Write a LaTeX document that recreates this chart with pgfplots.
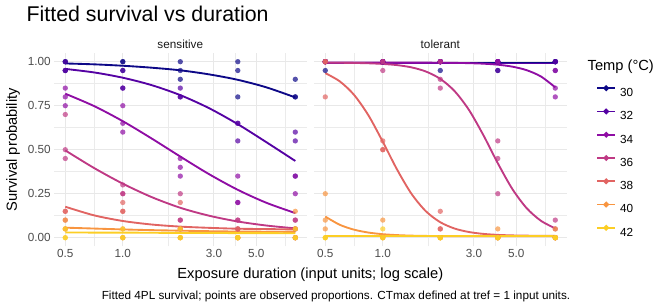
\documentclass[border=0pt]{standalone}
\usepackage{pgfplots}
\pgfplotsset{compat=1.18}
\usepackage{fontspec}
\setmainfont{Liberation Sans}
\definecolor{c30}{HTML}{0D0887}
\definecolor{c32}{HTML}{5502A3}
\definecolor{c34}{HTML}{8F0DA4}
\definecolor{c36}{HTML}{BF3984}
\definecolor{c38}{HTML}{E16462}
\definecolor{c40}{HTML}{F89540}
\definecolor{c42}{HTML}{FCCE25}
\pgfplotsset{
 pts/.style={only marks, mark=*, mark size=2pt, color=#1, mark options={draw opacity=0, fill=#1, fill opacity=0.7}, forget plot},
 crv/.style={color=#1, line width=1.4pt, mark=none, smooth, forget plot},
}
\begin{document}
\begin{tikzpicture}[x=0.75pt,y=0.75pt]
\path[use as bounding box] (0,0) rectangle (672,307);
% ---------------- sensitive ----------------
\begin{axis}[scale only axis, width=189.75pt, height=145.2pt, anchor=south west,
   xmode=log, xmin=0.4353, xmax=9.19, ymin=-0.05, ymax=1.05,
   axis line style={draw=none}, major tick length=0pt, minor tick length=0pt,
   grid=both, major grid style={black!9, line width=0.8pt},
   minor grid style={black!8, line width=0.4pt},
   xtick={0.5,1,3,5}, xticklabels={0.5,1.0,3.0,5.0},
   minor xtick={0.35355,0.70711,1.73205,3.87298,7.07107},
   ytick={0,0.25,0.5,0.75,1}, minor ytick={0.125,0.375,0.625,0.875},
   tick label style={font=\fontsize{8.8}{10}\selectfont, text=black!70},
   /pgf/number format/assume math mode=true,
   xticklabel style={anchor=north, inner sep=0pt, yshift=-2.2pt},
   yticklabel style={anchor=east, inner sep=0pt, xshift=-2.2pt},
   at={(40.35pt,45.375pt)}, yticklabels={0.00,0.25,0.50,0.75,1.00}]
\addplot[pts=c30] coordinates {(0.5,1)(0.5,1)(0.5,0.95)(1,1)(1,1)(1,0.95)(2,1)(2,0.95)(2,0.9)(4,1)(4,0.95)(4,0.8)(8,0.9)(8,0.8)(8,0.8)};
\addplot[pts=c32] coordinates {(0.5,0.95)(0.5,0.95)(0.5,1)(1,0.95)(1,0.85)(1,0.85)(2,0.85)(2,0.8)(2,0.8)(4,0.65)(4,0.65)(4,0.55)(8,0.6)(8,0.55)(8,0.35)};
\addplot[pts=c34] coordinates {(0.5,0.85)(0.5,0.8)(0.5,0.75)(1,0.75)(1,0.65)(1,0.6)(2,0.45)(2,0.4)(2,0.35)(4,0.35)(4,0.2)(4,0.2)(8,0.35)(8,0.25)(8,0.05)};
\addplot[pts=c36] coordinates {(0.5,0.7)(0.5,0.5)(0.5,0.45)(1,0.3)(1,0.25)(1,0.25)(2,0.25)(2,0.1)(2,0.1)(4,0.1)(4,0.1)(4,0.05)(8,0.1)(8,0.1)(8,0)};
\addplot[pts=c38] coordinates {(0.5,0.15)(0.5,0.15)(0.5,0.1)(1,0.2)(1,0.15)(1,0.15)(2,0.2)(2,0.05)(2,0.05)(4,0.05)(4,0.05)(4,0)(8,0.05)(8,0)(8,0)};
\addplot[pts=c40] coordinates {(0.5,0.1)(0.5,0.05)(0.5,0.05)(1,0.05)(1,0)(1,0)(2,0.05)(2,0)(2,0)(4,0)(4,0)(4,0)(8,0.15)(8,0.05)(8,0)};
\addplot[pts=c42] coordinates {(0.5,0)(0.5,0)(0.5,0.05)(1,0.05)(1,0)(1,0)(2,0.05)(2,0)(2,0)(4,0)(4,0)(4,0)(8,0.05)(8,0)(8,0)};
\addplot[crv=c30] coordinates {(0.5,0.990)(0.70711,0.985)(1,0.977)(1.41421,0.966)(2,0.951)(2.82843,0.928)(4,0.897)(5.65685,0.854)(8,0.797)};
\addplot[crv=c32] coordinates {(0.5,0.959)(0.70711,0.939)(1,0.909)(1.41421,0.867)(2,0.810)(2.82843,0.736)(4,0.645)(5.65685,0.542)(8,0.436)};
\addplot[crv=c34] coordinates {(0.5,0.818)(0.70711,0.748)(1,0.662)(1.41421,0.564)(2,0.461)(2.82843,0.361)(4,0.272)(5.65685,0.198)(8,0.140)};
\addplot[crv=c36] coordinates {(0.5,0.496)(0.70711,0.396)(1,0.307)(1.41421,0.231)(2,0.170)(2.82843,0.125)(4,0.092)(5.65685,0.069)(8,0.053)};
\addplot[crv=c38] coordinates {(0.5,0.176)(0.70711,0.127)(1,0.095)(1.41421,0.075)(2,0.063)(2.82843,0.056)(4,0.051)(5.65685,0.049)(8,0.047)};
\addplot[crv=c40] coordinates {(0.5,0.057)(0.70711,0.052)(1,0.047)(1.41421,0.043)(2,0.040)(2.82843,0.037)(4,0.035)(5.65685,0.034)(8,0.033)};
\addplot[crv=c42] coordinates {(0.5,0.030)(0.70711,0.029)(1,0.029)(1.41421,0.028)(2,0.027)(2.82843,0.027)(4,0.026)(5.65685,0.026)(8,0.025)};
\end{axis}
% ---------------- tolerant ----------------
\begin{axis}[scale only axis, width=189.75pt, height=145.2pt, anchor=south west,
   xmode=log, xmin=0.4353, xmax=9.19, ymin=-0.05, ymax=1.05,
   axis line style={draw=none}, major tick length=0pt, minor tick length=0pt,
   grid=both, major grid style={black!9, line width=0.8pt},
   minor grid style={black!8, line width=0.4pt},
   xtick={0.5,1,3,5}, xticklabels={0.5,1.0,3.0,5.0},
   minor xtick={0.35355,0.70711,1.73205,3.87298,7.07107},
   ytick={0,0.25,0.5,0.75,1}, minor ytick={0.125,0.375,0.625,0.875},
   tick label style={font=\fontsize{8.8}{10}\selectfont, text=black!70},
   /pgf/number format/assume math mode=true,
   xticklabel style={anchor=north, inner sep=0pt, yshift=-2.2pt},
   yticklabels={},
   at={(235.35pt,45.375pt)},
  legend style={draw=none, fill=none, at={(1.0996,0.8424)}, anchor=north west,
    legend cell align=left, font=\fontsize{8.8}{10}\selectfont,
    nodes={inner sep=0pt, text height=6.3pt, text depth=0pt}, row sep=9.8pt, column sep=3pt},
  legend image code/.code={\draw[mark repeat=2,mark phase=2,#1] plot coordinates {(0pt,3.1pt) (6.75pt,3.1pt) (13.5pt,3.1pt)};}]
\addplot[pts=c30] coordinates {(0.5,1)(0.5,1)(0.5,0.95)(1,1)(1,1)(1,1)(2,1)(2,1)(2,0.95)(4,1)(4,1)(4,0.95)(8,1)(8,1)(8,1)};
\addplot[pts=c32] coordinates {(0.5,1)(0.5,1)(0.5,1)(1,1)(1,1)(1,1)(2,1)(2,1)(2,1)(4,1)(4,1)(4,0.95)(8,1)(8,1)(8,0.95)};
\addplot[pts=c34] coordinates {(0.5,1)(0.5,1)(0.5,1)(1,1)(1,1)(1,1)(2,1)(2,1)(2,1)(4,1)(4,1)(4,1)(8,0.95)(8,0.85)(8,0.8)};
\addplot[pts=c36] coordinates {(0.5,1)(0.5,1)(0.5,1)(1,1)(1,1)(1,0.95)(2,1)(2,0.9)(2,0.85)(4,0.55)(4,0.45)(4,0.25)(8,0.1)(8,0.05)(8,0)};
\addplot[pts=c38] coordinates {(0.5,1)(0.5,1)(0.5,0.8)(1,0.55)(1,0.5)(1,0.5)(2,0.15)(2,0.05)(2,0.05)(4,0)(4,0)(4,0)(8,0)(8,0)(8,0)};
\addplot[pts=c40] coordinates {(0.5,0.25)(0.5,0.1)(0.5,0.05)(1,0.1)(1,0)(1,0)(2,0)(2,0)(2,0)(4,0.05)(4,0)(4,0)(8,0.05)(8,0)(8,0)};
\addplot[pts=c42] coordinates {(0.5,0)(0.5,0)(0.5,0)(1,0.05)(1,0)(1,0)(2,0)(2,0)(2,0)(4,0)(4,0)(4,0)(8,0)(8,0)(8,0)};
\addplot[crv=c30] coordinates {(0.5,0.993)(1,0.993)(2,0.993)(4,0.993)(8,0.993)};
\addplot[crv=c32] coordinates {(0.5,0.990)(1,0.990)(2,0.990)(4,0.990)(8,0.990)};
\addplot[crv=c34] coordinates {(0.5,0.995)(1,0.995)(1.41421,0.995)(2,0.9941)(2.37841,0.9933)(2.82843,0.9917)(3.36359,0.9887)(4,0.983)(4.75683,0.972)(5.65685,0.952)(6.72717,0.916)(8,0.854)};
\addplot[crv=c36] coordinates {(0.5,0.9944)(0.5946,0.9939)(0.70711,0.9929)(0.8409,0.9910)(1,0.9873)(1.18921,0.9805)(1.41421,0.9677)(1.68179,0.9442)(2,0.9024)(2.37841,0.8324)(2.82843,0.7251)(3.36359,0.5822)(4,0.4232)(4.75683,0.2783)(5.65685,0.1685)(6.72717,0.0962)(8,0.0529)};
\addplot[crv=c38] coordinates {(0.5,0.9348)(0.5946,0.8888)(0.70711,0.8115)(0.8409,0.6953)(1,0.5452)(1.18921,0.3862)(1.41421,0.2489)(1.68179,0.1501)(2,0.0879)(2.37841,0.0519)(2.82843,0.0322)(3.36359,0.0216)(4,0.0160)(4.75683,0.0131)(5.65685,0.0116)(6.72717,0.0108)(8,0.0104)};
\addplot[crv=c40] coordinates {(0.5,0.120)(0.5946,0.0736)(0.70711,0.0456)(0.8409,0.0292)(1,0.0199)(1.18921,0.0147)(1.41421,0.0117)(1.68179,0.0101)(2,0.0092)(2.82843,0.0085)(4,0.0082)(5.65685,0.0080)(8,0.0080)};
\addplot[crv=c42] coordinates {(0.5,0.009)(1,0.009)(2,0.009)(4,0.009)(8,0.009)};
\addlegendimage{c30, line width=1.4pt, mark=*, mark size=1.4pt}
\addlegendentry{30}
\addlegendimage{c32, line width=1.4pt, mark=*, mark size=1.4pt}
\addlegendentry{32}
\addlegendimage{c34, line width=1.4pt, mark=*, mark size=1.4pt}
\addlegendentry{34}
\addlegendimage{c36, line width=1.4pt, mark=*, mark size=1.4pt}
\addlegendentry{36}
\addlegendimage{c38, line width=1.4pt, mark=*, mark size=1.4pt}
\addlegendentry{38}
\addlegendimage{c40, line width=1.4pt, mark=*, mark size=1.4pt}
\addlegendentry{40}
\addlegendimage{c42, line width=1.4pt, mark=*, mark size=1.4pt}
\addlegendentry{42}
\end{axis}
% ---------------- text ----------------
\node[anchor=base west, font=\fontsize{16}{19}\selectfont, text=black] at (22,285) {Fitted survival vs duration};
\node[anchor=base, font=\fontsize{8.8}{10}\selectfont, text=black!90] at (180.3,258.5) {sensitive};
\node[anchor=base, font=\fontsize{8.8}{10}\selectfont, text=black!90] at (440.3,258.5) {tolerant};
\node[anchor=center, rotate=90, font=\fontsize{11}{13}\selectfont] at (13,157.3) {Survival probability};
\node[anchor=base, font=\fontsize{11}{13}\selectfont] at (310.3,28) {Exposure duration (input units; log scale)};
\node[anchor=base, font=\fontsize{8.8}{10}\selectfont] at (336,7.5) {Fitted 4PL survival; points are observed proportions. CTmax defined at tref = 1 input units.};
\node[anchor=base west, font=\fontsize{11}{13}\selectfont] at (583,236) {Temp (°C)};
\end{tikzpicture}
\end{document}
